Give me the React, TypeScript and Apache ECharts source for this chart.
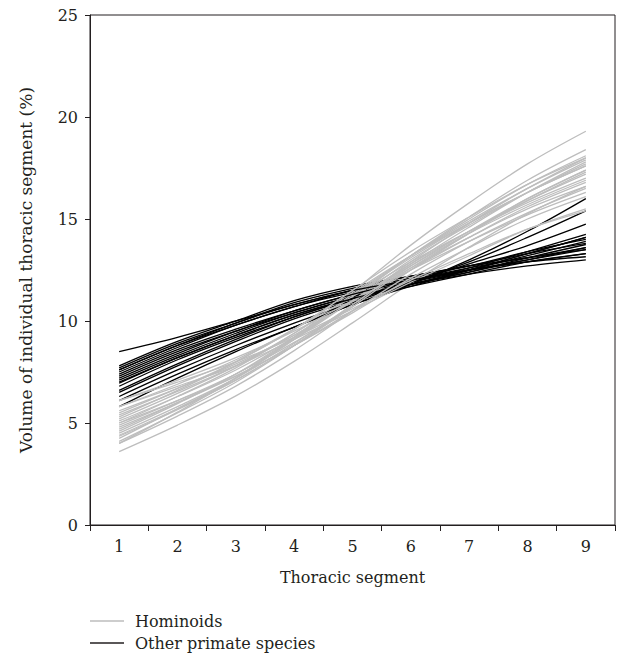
import React, { useEffect, useRef } from "react";
import * as echarts from "echarts";

const segments = ["1", "2", "3", "4", "5", "6", "7", "8", "9"];
const yTicks = [0, 5, 10, 15, 20, 25];

const hominoids: number[][] = [
  [3.6, 4.9, 6.33, 8.02, 9.91, 11.86, 13.62, 15.25, 16.6],
  [4.0, 5.34, 6.81, 8.55, 10.5, 12.5, 14.3, 16.0, 17.4],
  [4.0, 5.53, 7.21, 9.2, 11.42, 13.72, 15.79, 17.7, 19.3],
  [4.1, 5.5, 7.0, 8.8, 10.8, 12.9, 14.8, 16.5, 18.0],
  [4.25, 5.7, 7.2, 9.1, 11.1, 13.2, 15.1, 16.9, 18.4],
  [4.4, 5.7, 7.1, 8.8, 10.7, 12.6, 14.3, 15.9, 17.3],
  [4.6, 5.95, 7.4, 9.2, 11.2, 13.2, 15.0, 16.7, 18.1],
  [4.7, 6.0, 7.4, 9.1, 11.0, 13.0, 14.7, 16.3, 17.7],
  [4.9, 6.1, 7.4, 8.95, 10.7, 12.5, 14.1, 15.6, 16.8],
  [5.0, 6.3, 7.7, 9.4, 11.3, 13.2, 14.9, 16.5, 17.9],
  [5.1, 6.3, 7.6, 9.2, 11.0, 12.8, 14.4, 15.9, 17.2],
  [5.2, 6.45, 7.8, 9.4, 11.2, 13.1, 14.8, 16.3, 17.6],
  [5.4, 6.55, 7.8, 9.3, 11.0, 12.7, 14.3, 15.7, 16.9],
  [5.5, 6.7, 8.0, 9.6, 11.4, 13.2, 14.8, 16.3, 17.6],
  [5.6, 6.7, 7.9, 9.3, 10.95, 12.6, 14.1, 15.5, 16.6],
  [5.8, 6.9, 8.1, 9.6, 11.2, 12.9, 14.4, 15.8, 17.0],
  [6.1, 7.1, 8.2, 9.5, 11.0, 12.5, 13.9, 15.2, 16.3],
  [5.8, 6.8, 7.8, 9.1, 10.5, 11.9, 13.2, 14.5, 15.5],
  [6.1, 7.0, 8.0, 9.2, 10.6, 12.0, 13.3, 14.5, 15.4],
  [4.5, 5.8, 7.2, 8.9, 10.8, 12.8, 14.6, 16.3, 17.8],
  [4.8, 6.0, 7.3, 8.8, 10.5, 12.3, 13.9, 15.3, 16.5],
  [5.3, 6.6, 8.0, 9.6, 11.5, 13.4, 15.1, 16.7, 18.0],
  [4.35, 5.65, 7.1, 8.8, 10.7, 12.7, 14.4, 16.0, 17.4],
  [5.0, 6.1, 7.3, 8.8, 10.4, 12.1, 13.6, 15.0, 16.1],
];

const otherPrimates: number[][] = [
  [8.5, 9.2, 10.0, 10.8, 11.5, 12.0, 12.5, 12.9, 13.3],
  [7.8, 9.0, 10.0, 11.0, 11.7, 12.2, 12.7, 13.1, 13.6],
  [7.7, 8.9, 9.9, 10.9, 11.6, 12.2, 12.7, 13.3, 13.8],
  [7.6, 8.8, 9.8, 10.7, 11.4, 12.0, 12.5, 13.0, 13.5],
  [7.5, 8.7, 9.8, 10.7, 11.5, 12.1, 12.7, 13.4, 14.0],
  [7.4, 8.6, 9.6, 10.5, 11.3, 11.9, 12.5, 13.2, 13.9],
  [7.3, 8.5, 9.5, 10.4, 11.2, 11.8, 12.3, 12.7, 13.0],
  [7.1, 8.3, 9.4, 10.4, 11.2, 11.8, 12.4, 13.1, 13.75],
  [6.95, 8.2, 9.3, 10.3, 11.1, 11.8, 12.5, 13.3, 14.1],
  [6.8, 8.1, 9.2, 10.2, 11.1, 11.9, 12.6, 13.4, 14.25],
  [6.5, 7.8, 9.0, 10.1, 11.0, 11.9, 12.8, 13.7, 14.75],
  [6.3, 7.6, 8.8, 9.9, 10.9, 11.9, 12.9, 14.1, 15.4],
  [6.1, 7.4, 8.6, 9.7, 10.8, 11.8, 13.0, 14.4, 16.0],
  [5.8, 7.2, 8.5, 9.7, 10.8, 11.7, 12.5, 13.3, 14.1],
  [7.0, 8.2, 9.3, 10.3, 11.1, 11.7, 12.3, 12.9, 13.3],
  [7.2, 8.4, 9.5, 10.5, 11.3, 12.0, 12.6, 13.1, 13.5],
  [6.6, 7.9, 9.1, 10.2, 11.1, 11.8, 12.4, 13.0, 13.6],
  [7.6, 8.8, 9.9, 10.8, 11.5, 12.0, 12.5, 12.9, 13.15],
];

const GRAY_NAME = "Hominoids";
const BLACK_NAME = "Other primate species";
const FONT = "DejaVu Serif";
const TEXT = "#231f20";
const GRAY = "#bdbdbd";

export default function App() {
  const ref = useRef<HTMLDivElement>(null);
  useEffect(() => {
    if (!ref.current) return;
    const chart = echarts.init(ref.current, null, { renderer: "svg" });
    const mk = (name: string, color: string, data: number[]) => ({
      type: "line",
      name,
      data,
      symbol: "none",
      showSymbol: false,
      smooth: 0.35,
      lineStyle: { color, width: 1.3 },
      itemStyle: { color },
    });
    const series: any[] = [];
    const n = Math.max(hominoids.length, otherPrimates.length);
    for (let i = 0; i < n; i++) {
      if (i < hominoids.length) series.push(mk(GRAY_NAME, GRAY, hominoids[i]));
      if (i < otherPrimates.length) series.push(mk(BLACK_NAME, "#000000", otherPrimates[i]));
    }
    chart.setOption({
      animation: false,
      backgroundColor: "#fff",
      textStyle: { fontFamily: FONT },
      grid: {
        left: 90,
        right: 3,
        top: 15,
        bottom: 134,
        show: true,
        borderColor: TEXT,
        borderWidth: 1,
      },
      legend: {
        data: [
          { name: GRAY_NAME, itemStyle: { color: GRAY } },
          { name: BLACK_NAME, itemStyle: { color: "#231f20" } },
        ],
        orient: "vertical",
        left: 90,
        top: 613,
        padding: 0,
        icon: "rect",
        itemWidth: 34,
        itemHeight: 1.4,
        itemGap: 6,
        textStyle: { fontFamily: FONT, fontSize: 16, color: TEXT, padding: [0, 0, 0, 6] },
      },
      xAxis: {
        type: "category",
        data: segments,
        boundaryGap: true,
        name: "Thoracic segment",
        nameLocation: "middle",
        nameGap: 44,
        nameTextStyle: { fontFamily: FONT, fontSize: 16, color: TEXT },
        axisLine: { lineStyle: { color: TEXT, width: 1 } },
        axisTick: { show: true, length: 6, lineStyle: { color: TEXT } },
        axisLabel: { fontFamily: FONT, fontSize: 16, color: TEXT, margin: 13 },
        splitLine: { show: false },
      },
      yAxis: {
        type: "value",
        min: yTicks[0],
        max: yTicks[yTicks.length - 1],
        interval: 5,
        name: "Volume of individual thoracic segment (%)",
        nameLocation: "middle",
        nameGap: 56,
        nameTextStyle: { fontFamily: FONT, fontSize: 17, color: TEXT },
        axisLine: { show: true, lineStyle: { color: TEXT, width: 1 } },
        axisTick: { show: true, length: 5, lineStyle: { color: TEXT } },
        axisLabel: { fontFamily: FONT, fontSize: 16, color: TEXT, margin: 12 },
        splitLine: { show: false },
      },
      series,
    });
    return () => chart.dispose();
  }, []);
  return (
    <div
      ref={ref}
      style={{ position: "fixed", left: 0, top: 0, width: 618, height: 659 }}
    />
  );
}
